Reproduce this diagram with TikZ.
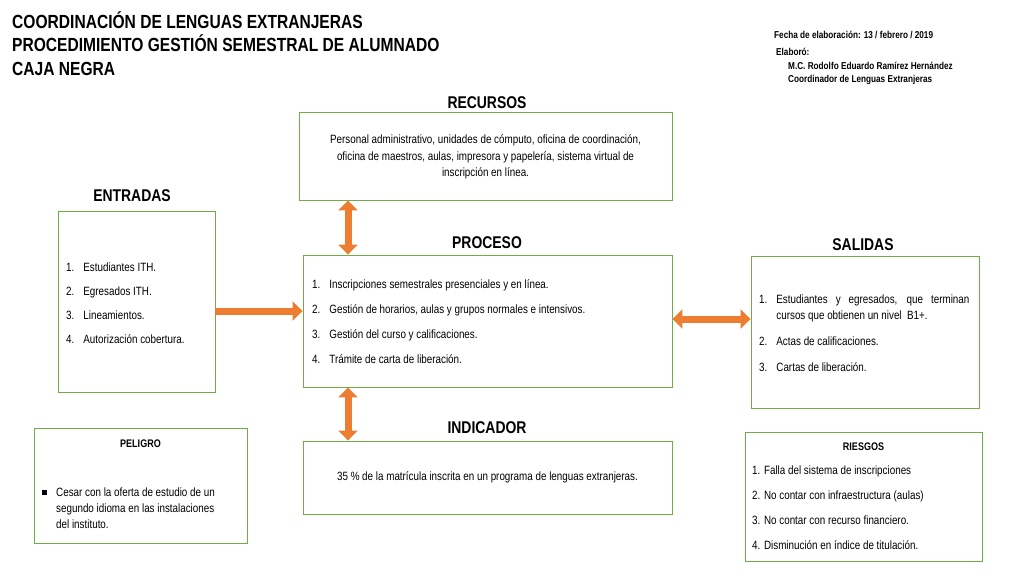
\documentclass[tikz,border=0pt]{standalone}
\usepackage{fontspec}
\setmainfont[FakeStretch=0.82]{Liberation Sans}
\usetikzlibrary{arrows.meta,positioning}
\definecolor{boxgreen}{HTML}{70AD47}
\definecolor{arrorange}{HTML}{ED7D31}
\begin{document}
\begin{tikzpicture}
	[x=1pt,y=-1pt,every node/.style={inner sep=0pt},
	 box/.style={draw=boxgreen,line width=0.9pt},
	 head/.style={font=\fontsize{17}{19}\selectfont\bfseries},
	 body/.style={font=\fontsize{12}{14}\selectfont,align=left},
	 blockarrow/.style={line width=7pt,arrorange,-{Triangle[length=10pt,width=19pt]}},
	 dblarrow/.style={line width=7pt,arrorange,{Triangle[length=10pt,width=19pt]}-{Triangle[length=10pt,width=19pt]}}]
	\useasboundingbox (0,0) rectangle (1024,576);
	
	% header
	\node[anchor=north west,align=left,font=\fontsize{19}{23.5}\selectfont\bfseries] (title) at (12,11)
	  {COORDINACIÓN DE LENGUAS EXTRANJERAS\\PROCEDIMIENTO GESTIÓN SEMESTRAL DE ALUMNADO\\CAJA NEGRA};
	\node[anchor=west,font=\fontsize{10}{11}\selectfont\bfseries] (fecha) at (774,35) {Fecha de elaboración: 13 / febrero / 2019};
	\node[anchor=north west,align=left,font=\fontsize{10}{13.5}\selectfont\bfseries] (elab) at (776,48)
	  {Elaboró:\\\hspace{12pt}M.C. Rodolfo Eduardo Ramírez Hernández\\\hspace{12pt}Coordinador de Lenguas Extranjeras};
	
	% boxes
	\node[box,minimum width=373pt,minimum height=88pt] (rec) at (485.5,156) {};
	\node[box,minimum width=157pt,minimum height=181pt] (ent) at (136.5,301.5) {};
	\node[box,minimum width=369pt,minimum height=132pt] (pro) at (487.5,321) {};
	\node[box,minimum width=228pt,minimum height=152pt] (sal) at (865,332) {};
	\node[box,minimum width=369pt,minimum height=73pt] (ind) at (487.5,477.5) {};
	\node[box,minimum width=213pt,minimum height=115pt] (pel) at (140.5,485.5) {};
	\node[box,minimum width=237pt,minimum height=129pt] (rie) at (863.5,496.5) {};
	
	% titles
	\node[head] (trec) at (487,103) {RECURSOS};
	\node[head] (tent) at (132,196) {ENTRADAS};
	\node[head] (tpro) at (487,243) {PROCESO};
	\node[head] (tsal) at (863,245) {SALIDAS};
	\node[head] (tind) at (487,428) {INDICADOR};
	
	% texts
	\node[body,align=center,font=\fontsize{12}{16.5}\selectfont] (xrec) at (485.5,157)
	  {Personal administrativo, unidades de cómputo, oficina de coordinación,\\oficina de maestros, aulas, impresora y papelería, sistema virtual de\\inscripción en línea.};
	\node[body,anchor=north west] (xent) at (66,261)
	  {\begin{tabular}{@{}l@{\hspace{9pt}}l@{}}
	   1. & Estudiantes ITH.\\[10pt]
	   2. & Egresados ITH.\\[10pt]
	   3. & Lineamientos.\\[10pt]
	   4. & Autorización cobertura.
	   \end{tabular}};
	\node[body,anchor=north west] (xpro) at (312,278)
	  {\begin{tabular}{@{}l@{\hspace{9pt}}l@{}}
	   1. & Inscripciones semestrales presenciales y en línea.\\[11pt]
	   2. & Gestión de horarios, aulas y grupos normales e intensivos.\\[11pt]
	   3. & Gestión del curso y calificaciones.\\[11pt]
	   4. & Trámite de carta de liberación.
	   \end{tabular}};
	\node[body,anchor=north west] (xsal) at (759,293)
	  {\begin{tabular}{@{}l@{\hspace{9pt}}l@{}}
	   1. & \makebox[193pt][s]{Estudiantes y egresados, que terminan}\\[2pt]
	      & cursos que obtienen un nivel \ B1+.\\[12pt]
	   2. & Actas de calificaciones.\\[12pt]
	   3. & Cartas de liberación.
	   \end{tabular}};
	\node[body] (xind) at (487.5,477) {35 \% de la matrícula inscrita en un programa de lenguas extranjeras.};
	\node[font=\fontsize{11}{12}\selectfont\bfseries] (tpel) at (140.5,444) {PELIGRO};
	\node[body,anchor=north west] (xpel) at (42,486)
	  {\begin{tabular}{@{}l@{\hspace{9pt}}l@{}}
	   \rule[1pt]{5pt}{5pt} & Cesar con la oferta de estudio de un\\[2pt]
	   & segundo idioma en las instalaciones\\[2pt]
	   & del instituto.
	   \end{tabular}};
	\node[font=\fontsize{11}{12}\selectfont\bfseries] (trie) at (863.5,447) {RIESGOS};
	\node[body,anchor=north west] (xrie) at (752,466)
	  {1. Falla del sistema de inscripciones\\[11pt]
	   2. No contar con infraestructura (aulas)\\[11pt]
	   3. No contar con recurso financiero.\\[11pt]
	   4. Disminución en índice de titulación.};
	
	% arrows
	\draw[dblarrow] (rec.south -| 348,0) -- (pro.north -| 348,0);
	\draw[dblarrow] (pro.south -| 348,0) -- (ind.north -| 348,0);
	\draw[blockarrow] (ent.east |- 0,311) -- (pro.west |- 0,311);
	\draw[dblarrow] (pro.east |- 0,319) -- (sal.west |- 0,319);
\end{tikzpicture}
\end{document}
